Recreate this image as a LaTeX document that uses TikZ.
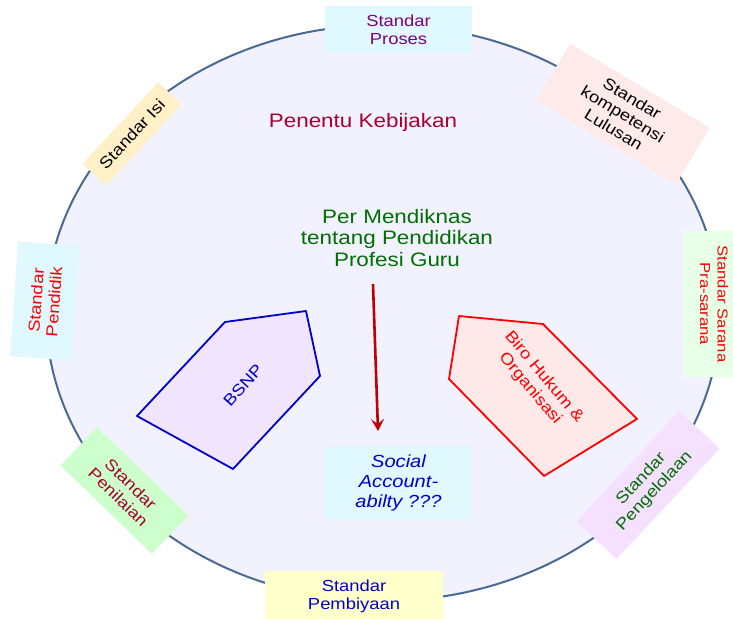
\documentclass[tikz,border=0pt]{standalone}
\usepackage{fontspec}
\setmainfont{Liberation Sans}[FakeStretch=1.15]
\usepackage{xcolor}
\definecolor{ringline}{RGB}{74, 106, 150}
\definecolor{ringfill}{RGB}{242, 242, 255}
\definecolor{icefill}{RGB}{224, 248, 255}
\definecolor{sandfill}{RGB}{255, 240, 200}
\definecolor{rosefill}{RGB}{255, 234, 234}
\definecolor{mintfill}{RGB}{232, 255, 232}
\definecolor{leaffill}{RGB}{204, 255, 204}
\definecolor{lilacfill}{RGB}{245, 224, 255}
\definecolor{creamfill}{RGB}{255, 255, 204}
\definecolor{plum}{RGB}{128, 0, 128}
\definecolor{wine}{RGB}{170, 0, 48}
\definecolor{forest}{RGB}{0, 110, 0}
\definecolor{royal}{RGB}{0, 0, 204}
\definecolor{arrowred}{RGB}{192, 0, 0}
\definecolor{bsnpfill}{RGB}{240, 228, 255}
\definecolor{birofill}{RGB}{255, 232, 232}
\usepackage{tikz}
\usetikzlibrary{arrows.meta, positioning}

\begin{document}
\begin{tikzpicture}[
    x=1pt, y=-1pt,
    every text node part/.style={align=center},
    stdbox/.style={inner sep=0pt, font=\fontsize{16}{18}\selectfont},
    bigtext/.style={inner sep=0pt, font=\fontsize{19.5}{21.5}\selectfont},
    ring/.style={draw=ringline, line width=2pt, fill=ringfill},
    shield/.style={line width=1.8pt, line join=round},
    flow/.style={draw=arrowred, line width=2.6pt, -{Stealth[length=12pt, width=13pt, inset=5pt]}}
]
\useasboundingbox (0,0) rectangle (733,618);
\clip (0,0) rectangle (733,618);

% ==================== RING ====================
\draw[ring] (383,313) ellipse [x radius=337pt, y radius=288pt];

% ==================== CENTRE ====================
\node[bigtext, text=wine] (penentu) at (363,122) {Penentu Kebijakan};

\node[bigtext, text=forest] (mendiknas) at (397,238) {
    Per Mendiknas\\
    tentang Pendidikan\\
    Profesi Guru
};

\draw[shield, draw=royal, fill=bsnpfill] (225,322) -- (306,311) -- (320,376) -- (233,469) -- (137,416) -- cycle;
\node[stdbox, text=royal, rotate=48] (bsnp) at (243,385) {BSNP};

\draw[shield, draw=red, fill=birofill] (459,316) -- (543,324) -- (637,419) -- (544,476) -- (449,379) -- cycle;
\node[stdbox, text=red, rotate=-50] (biro) at (537,383) {
    Biro Hukum \&\\
    Organisasi
};

\node[stdbox, fill=icefill, text=royal, font=\fontsize{17.5}{20}\selectfont\itshape,
      minimum width=147pt, minimum height=73pt] (social) at (398.5,482.5) {
    Social\\
    Account-\\
    abilty ???
};

\coordinate (flowtop) at (373,284);
\coordinate (flowend) at (378,431);
\draw[flow] (flowtop) -- (flowend);

% ==================== STANDARDS ROUND THE RING ====================
\node[stdbox, fill=icefill, text=plum, minimum width=147pt, minimum height=47pt] (proses) at (398.5,29.5) {
    Standar\\
    Proses
};

\node[stdbox, fill=sandfill, text=black, rotate=47, minimum width=111pt, minimum height=32pt] (isi) at (132,134) {Standar Isi};

\node[stdbox, fill=rosefill, text=black, rotate=-31, minimum width=163pt, minimum height=66pt] (kompetensi) at (623,114) {
    Standar\\
    kompetensi\\
    Lulusan
};

\node[stdbox, fill=icefill, text=red, rotate=86, minimum width=115pt, minimum height=62pt] (pendidik) at (45,301) {
    Standar\\
    Pendidik
};

\node[stdbox, fill=mintfill, text=red, font=\fontsize{14.5}{17.5}\selectfont, rotate=-90,
      minimum width=146pt, minimum height=62pt] (sarana) at (714,304) {
    Standar Sarana\\
    Pra-sarana
};

\node[stdbox, fill=leaffill, text=wine, rotate=-44, minimum width=127pt, minimum height=53pt] (penilaian) at (124.5,490.5) {
    Standar\\
    Penilaian
};

\node[stdbox, fill=lilacfill, text=forest, rotate=47, minimum width=151pt, minimum height=55pt] (pengelolaan) at (648,485) {
    Standar\\
    Pengelolaan
};

\node[stdbox, fill=creamfill, text=royal, minimum width=178pt, minimum height=50pt] (pembiyaan) at (354,596) {
    Standar\\
    Pembiyaan
};

\end{tikzpicture}
\end{document}
